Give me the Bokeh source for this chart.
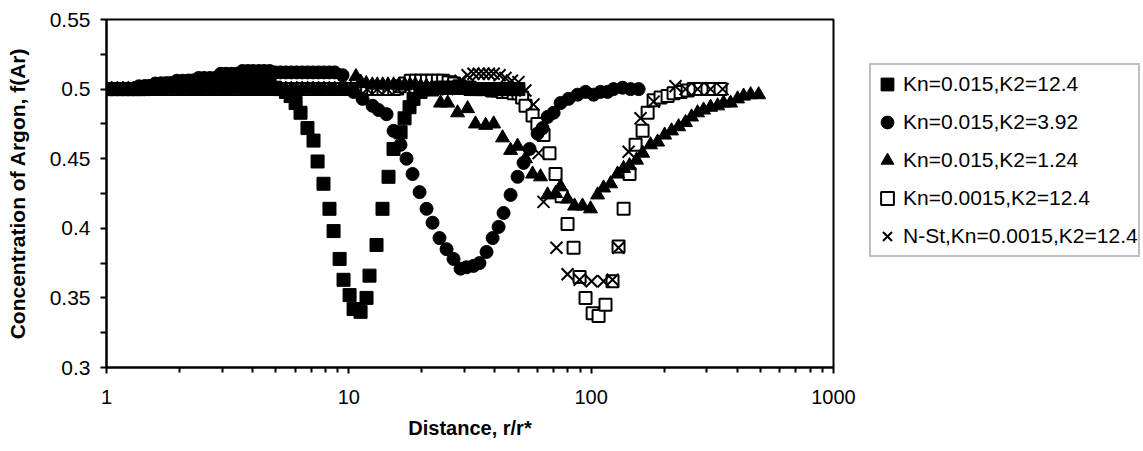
from bokeh.plotting import figure
from bokeh.layouts import row
from bokeh.models import (Range1d, FixedTicker, Legend, LegendItem)
from bokeh.embed import file_html
from bokeh.resources import INLINE

# ---------------- data ----------------
# Kn=0.015, K2=12.4 (filled squares)
x1 = [1.00, 1.05, 1.11, 1.17, 1.23, 1.29, 1.36, 1.43, 1.51, 1.59, 1.67, 1.76, 1.86, 1.95, 2.06, 2.17, 2.28,
      2.40, 2.53, 2.67, 2.81, 2.96, 3.11, 3.28, 3.45, 3.64, 3.83, 4.03, 4.25, 4.47, 4.71, 4.96, 5.22, 5.50,
      5.75, 6.03, 6.32, 6.75, 7.15, 7.43, 7.86, 8.32, 8.65, 9.16, 9.51, 10.07, 10.46, 11.18, 11.83, 12.17,
      13.01, 13.77, 14.58, 15.29, 16.35, 16.98, 17.80, 18.49, 19.77,
      20.8, 21.9, 23.1, 24.3, 25.6, 27.0, 28.4, 29.9, 31.5, 33.2, 34.9, 36.8, 38.7, 40.8, 42.9, 45.2, 47.6, 50.1]
y1 = [0.500, 0.500, 0.500, 0.500, 0.500, 0.500, 0.500, 0.500, 0.502, 0.502, 0.502, 0.504, 0.504, 0.504, 0.504,
      0.504, 0.506, 0.506, 0.506, 0.506, 0.506, 0.508, 0.508, 0.508, 0.508, 0.508, 0.508, 0.508, 0.507, 0.505,
      0.503, 0.501, 0.500, 0.498,
      0.495, 0.490, 0.483, 0.472, 0.463, 0.448, 0.432, 0.414, 0.398, 0.378, 0.363, 0.352, 0.342, 0.340, 0.350,
      0.366, 0.388, 0.414, 0.437, 0.457, 0.469, 0.479, 0.487, 0.493, 0.498,
      0.500, 0.500, 0.501, 0.501, 0.501, 0.501, 0.501, 0.501, 0.501, 0.500, 0.500, 0.500, 0.500, 0.500, 0.500,
      0.500, 0.500, 0.500]

# Kn=0.015, K2=3.92 (filled circles)
x2 = [1.00, 1.05, 1.11, 1.17, 1.23, 1.29, 1.36, 1.43, 1.51, 1.59, 1.67, 1.76, 1.86, 1.95, 2.06, 2.17, 2.28,
      2.40, 2.53, 2.67, 2.81, 2.96, 3.11, 3.28, 3.45, 3.64, 3.83, 4.03, 4.25, 4.47, 4.71, 4.96, 5.22, 5.50,
      5.79, 6.10, 6.42, 6.76, 7.12, 7.50, 7.89, 8.31, 8.75,
      9.42, 10.45, 11.39, 12.53, 13.26, 14.31, 15.30, 16.34, 17.30, 18.32, 19.58, 20.93, 22.15, 23.67, 25.31,
      27.04, 28.91, 30.60, 32.7, 34.6, 37.0, 39.2, 41.5, 43.5, 46.5, 49.7, 52.6, 55.7, 60.1, 63.0, 66.1, 70.0,
      74.8, 80.7, 87.9, 94.8, 102.3, 109.3, 116.9, 123.7, 134.8, 145.4, 157.0]
y2 = [0.500, 0.500, 0.500, 0.500, 0.500, 0.500, 0.502, 0.502, 0.502, 0.504, 0.504, 0.504, 0.504, 0.506, 0.506,
      0.506, 0.506, 0.508, 0.508, 0.508, 0.508, 0.511, 0.511, 0.511, 0.511, 0.513, 0.513, 0.513, 0.513, 0.513,
      0.513, 0.512, 0.512, 0.512, 0.512, 0.512, 0.512, 0.512, 0.512, 0.512, 0.512, 0.512, 0.512,
      0.510, 0.498, 0.493, 0.488, 0.485, 0.482, 0.470, 0.460, 0.450, 0.439, 0.426, 0.414, 0.404, 0.393, 0.385,
      0.378, 0.371, 0.372, 0.373, 0.375, 0.383, 0.393, 0.401, 0.411, 0.424, 0.437, 0.447, 0.457, 0.468, 0.472,
      0.480, 0.483, 0.490, 0.493, 0.496, 0.498, 0.496, 0.498, 0.498, 0.500, 0.501, 0.500, 0.500]

# Kn=0.015, K2=1.24 (filled triangles)
x3 = [1.00, 1.05, 1.11, 1.17, 1.23, 1.29, 1.36, 1.43, 1.51, 1.59, 1.67, 1.76, 1.86, 1.95, 2.06, 2.17, 2.28,
      2.40, 2.53, 2.67, 2.81, 2.96, 3.11, 3.28, 3.45, 3.64, 3.83, 4.03, 4.25, 4.47, 4.71, 4.96, 5.22, 5.50,
      5.79, 6.10, 6.42, 6.76, 7.12, 7.50, 7.89, 8.31, 8.75, 9.22, 9.71, 10.2,
      10.7, 11.2, 11.8, 12.5, 13.1, 13.8, 14.5, 15.3, 16.1, 17.0, 17.9, 18.8, 19.8, 20.9, 22.0,
      23.9, 25.6, 28.1, 30.9, 33.3, 36.7, 39.6, 43.1, 46.5, 49.7, 53.6, 57.3, 61.8, 66.1, 71.3, 74.8, 79.9,
      85.4, 92.1, 99.4, 106.3, 112.5, 120.3, 128.5, 136.1, 144.0, 153.9, 163.0, 175.8, 188.0, 201.0, 214.6,
      229.5, 245.0, 259.6, 274.9, 291.0, 311.0, 332.6, 352.0, 376.0, 402.0, 425.6, 455.0, 491.0]
y3 = [0.500, 0.500, 0.500, 0.500, 0.500, 0.500, 0.500, 0.500, 0.500, 0.500, 0.500, 0.500, 0.500,
      0.500, 0.500, 0.500, 0.500, 0.500, 0.500, 0.500, 0.500, 0.500, 0.500, 0.500, 0.500, 0.500, 0.500, 0.500,
      0.500, 0.500, 0.500, 0.500, 0.500, 0.500, 0.500, 0.500, 0.500, 0.500, 0.500, 0.500, 0.500, 0.500, 0.500,
      0.500, 0.500, 0.500,
      0.509, 0.505, 0.504, 0.503, 0.503, 0.503, 0.503, 0.503, 0.503, 0.503, 0.503, 0.503, 0.502, 0.502, 0.498,
      0.490, 0.490, 0.483, 0.486, 0.475, 0.474, 0.475, 0.465, 0.456, 0.459, 0.450, 0.439, 0.437, 0.424, 0.425,
      0.430, 0.421, 0.416, 0.416, 0.414, 0.424, 0.429, 0.432, 0.439, 0.443, 0.445, 0.449, 0.454, 0.460, 0.462,
      0.467, 0.470, 0.473, 0.476, 0.480, 0.483, 0.485, 0.487, 0.488, 0.490, 0.490, 0.493, 0.495, 0.496, 0.496]

# Kn=0.0015, K2=12.4 (open squares)
x4 = [1.00, 1.05, 1.11, 1.17, 1.23, 1.29, 1.36, 1.43, 1.51, 1.59, 1.67, 1.76, 1.86, 1.95, 2.06, 2.17, 2.28,
      2.40, 2.53, 2.67, 2.81, 2.96, 3.11, 3.28, 3.45, 3.64, 3.83, 4.03, 4.25, 4.47, 4.71, 4.96, 5.22, 5.50,
      5.79, 6.10, 6.42, 6.76, 7.12, 7.50, 7.89, 8.31, 8.75, 9.22, 9.71, 10.2, 10.8, 11.3, 11.9, 12.6, 13.2,
      13.9, 14.7, 15.4,
      16.2, 17.1, 18.0, 18.9, 19.9, 21.0, 22.1, 23.3, 24.5, 25.8, 27.2, 28.6, 30.1, 31.7, 33.4, 35.2, 37.0,
      39.0, 41.0, 43.2, 45.5, 47.9, 50.1, 51.9, 53.6, 57.3, 60.0, 63.6, 67.3, 71.3, 75.5, 79.9, 84.6, 89.6,
      94.8, 101.4, 107.3, 114.6, 122.5, 129.7, 136.1, 144.0, 152.5, 163.0, 171.0, 181.0, 193.3, 206.7, 218.8,
      233.9, 250.0, 264.7, 282.8, 302.0, 320.0, 342.0]
y4 = [0.500, 0.500, 0.500, 0.500, 0.500, 0.500, 0.500, 0.500, 0.500, 0.500, 0.500, 0.500, 0.500, 0.500, 0.500,
      0.500, 0.500, 0.500, 0.500, 0.500, 0.500, 0.500, 0.500, 0.500, 0.500, 0.500, 0.500, 0.500, 0.500, 0.500,
      0.500, 0.500, 0.500, 0.500, 0.500, 0.500, 0.500, 0.500, 0.500, 0.500, 0.500, 0.500, 0.500, 0.500, 0.500,
      0.500, 0.500, 0.500, 0.500, 0.500, 0.500, 0.500, 0.500, 0.500,
      0.502, 0.504, 0.506, 0.506, 0.506, 0.506, 0.506, 0.506, 0.506, 0.505, 0.504, 0.502, 0.501, 0.500, 0.500,
      0.500, 0.500, 0.499, 0.499, 0.498, 0.498, 0.497, 0.497, 0.494, 0.488, 0.481, 0.475, 0.467, 0.454, 0.439,
      0.423, 0.403, 0.386, 0.365, 0.350, 0.339, 0.337, 0.345, 0.362, 0.387, 0.414, 0.439, 0.460, 0.470, 0.483,
      0.492, 0.494, 0.495, 0.497, 0.498, 0.499, 0.500, 0.500, 0.500, 0.500, 0.500]

# N-St, Kn=0.0015, K2=12.4 (crosses)
x5 = [1.00, 1.10, 1.21, 1.33, 1.46, 1.61, 1.77, 1.95, 2.14, 2.36, 2.59, 2.85, 3.14, 3.45, 3.80, 4.18, 4.59,
      5.05, 5.56, 6.12, 6.73, 7.40, 8.14, 8.95, 9.85, 10.8, 11.9, 13.1, 14.4, 15.9, 17.4, 19.2, 21.1, 23.2, 25.5,
      27.0, 28.9, 30.9, 32.7, 34.4, 36.0, 37.8, 39.6, 41.9, 44.3, 47.1, 50.1, 53.5,
      57.8, 60.7, 63.6, 71.9, 79.9, 89.6, 100.4, 112.5, 122.5, 129.7, 142.7, 159.9, 181.0, 222.9, 245.2, 274.9,
      311.0, 348.6]
y5 = [0.500, 0.500, 0.500, 0.500, 0.500, 0.500, 0.500, 0.500, 0.500, 0.500, 0.500, 0.500, 0.500, 0.500, 0.500,
      0.500, 0.500, 0.500, 0.500, 0.500, 0.500, 0.500, 0.500, 0.500, 0.500, 0.500, 0.500, 0.500, 0.500, 0.500,
      0.500, 0.500, 0.500, 0.500, 0.500,
      0.502, 0.506, 0.510, 0.511, 0.511, 0.511, 0.511, 0.511, 0.510, 0.508, 0.506, 0.505, 0.499,
      0.489, 0.454, 0.419, 0.386, 0.367, 0.363, 0.362, 0.362, 0.363, 0.386, 0.455, 0.479, 0.491, 0.502, 0.500,
      0.500, 0.500, 0.500]

labels = ["Kn=0.015,K2=12.4", "Kn=0.015,K2=3.92", "Kn=0.015,K2=1.24",
          "Kn=0.0015,K2=12.4", "N-St,Kn=0.0015,K2=12.4"]

x_ticks = [1, 10, 100, 1000]
x_tick_labels = ["1", "10", "100", "1000"]
x_minor = [2, 3, 4, 5, 6, 7, 8, 9, 20, 30, 40, 50, 60, 70, 80, 90, 200, 300, 400, 500, 600, 700, 800, 900]
y_ticks = [0.3, 0.35, 0.4, 0.45, 0.5, 0.55]
y_tick_labels = ["0.3", "0.35", "0.4", "0.45", "0.5", "0.55"]
y_minor = [0.325, 0.375, 0.425, 0.475, 0.525]

series = [(x1, y1), (x2, y2), (x3, y3), (x4, y4), (x5, y5)]
for a, b in series:
    assert len(a) == len(b), (len(a), len(b))

FONT = "Liberation Sans"

# marker styles shared by the plot and the legend
styles = [
    dict(marker="square", size=13, fill_color="black", line_color="black"),
    dict(marker="circle", size=13, fill_color="black", line_color="black"),
    dict(marker="triangle", size=14, fill_color="black", line_color="black"),
    dict(marker="square", size=12, fill_color="white", line_color="black", line_width=2),
    dict(marker="x", size=17, line_color="black", line_width=2),
]

p = figure(width=860, height=451, x_axis_type="log",
           x_range=Range1d(1, 1000), y_range=Range1d(0.3, 0.55),
           output_backend="svg", toolbar_location=None,
           min_border_left=106, min_border_right=27, min_border_top=19, min_border_bottom=84)
p.background_fill_color = "white"
p.border_fill_color = "white"
p.outline_line_color = "black"
p.outline_line_width = 2
p.xgrid.visible = False
p.ygrid.visible = False

# open squares drawn first so filled markers sit on top of them
r4 = p.scatter(x4, y4, **styles[3])
r1 = p.scatter(x1, y1, **styles[0])
r2 = p.scatter(x2, y2, **styles[1])
r3 = p.scatter(x3, y3, **styles[2])
r5 = p.scatter(x5, y5, **styles[4])

# axes
xa = p.xaxis[0]
xa.ticker = FixedTicker(ticks=x_ticks, minor_ticks=x_minor)
xa.major_label_overrides = {t: l for t, l in zip(x_ticks, x_tick_labels)}
ya = p.yaxis[0]
ya.ticker = FixedTicker(ticks=y_ticks, minor_ticks=y_minor)
ya.major_label_overrides = {t: l for t, l in zip(y_ticks, y_tick_labels)}

for ax in (xa, ya):
    ax.axis_line_color = "black"
    ax.axis_line_width = 2
    ax.major_tick_line_color = "black"
    ax.major_tick_line_width = 2
    ax.minor_tick_line_color = "black"
    ax.minor_tick_line_width = 2
    ax.major_tick_in = 0
    ax.major_tick_out = 6
    ax.minor_tick_in = 0
    ax.major_label_text_font = FONT
    ax.major_label_text_color = "black"
    ax.axis_label_text_font = FONT
    ax.axis_label_text_font_style = "bold"
    ax.axis_label_text_color = "black"

xa.major_label_text_font_size = "20px"
ya.major_label_text_font_size = "21px"
xa.axis_label_text_font_size = "20px"
ya.axis_label_text_font_size = "21px"
xa.minor_tick_out = 5
ya.minor_tick_out = 6
xa.axis_label = "Distance, r/r*"
ya.axis_label = "Concentration of Argon, f(Ar)"
xa.major_label_standoff = 16
ya.major_label_standoff = 10
xa.axis_label_standoff = 10
ya.axis_label_standoff = 18

# legend panel: a blank figure to the right of the chart; its ranges exclude all
# data so the proxy renderers only show up as legend glyphs
q = figure(width=283, height=451, x_range=Range1d(-2, -1), y_range=Range1d(-2, -1),
           output_backend="svg", toolbar_location=None,
           x_axis_location=None, y_axis_location=None,
           min_border_left=0, min_border_right=0, min_border_top=0, min_border_bottom=0)
q.outline_line_color = None
q.xgrid.visible = False
q.ygrid.visible = False
q.background_fill_color = "white"
q.border_fill_color = "white"
legend_renderers = [q.scatter(xs, ys, **s) for (xs, ys), s in zip(series, styles)]

legend = Legend(items=[LegendItem(label=l, renderers=[r]) for l, r in zip(labels, legend_renderers)],
                location=(9, 110))
legend.margin = 0
legend.padding = 0
legend.spacing = 0
legend.glyph_width = 32
legend.glyph_height = 38
legend.label_height = 38
legend.label_standoff = 0
legend.label_text_font = FONT
legend.label_text_font_size = "21px"
legend.label_text_color = "black"
legend.border_line_color = "#808080"
legend.border_line_width = 2
legend.background_fill_color = "white"
legend.background_fill_alpha = 1
q.add_layout(legend)

open("out.html", "w").write(file_html(row(p, q), INLINE))
